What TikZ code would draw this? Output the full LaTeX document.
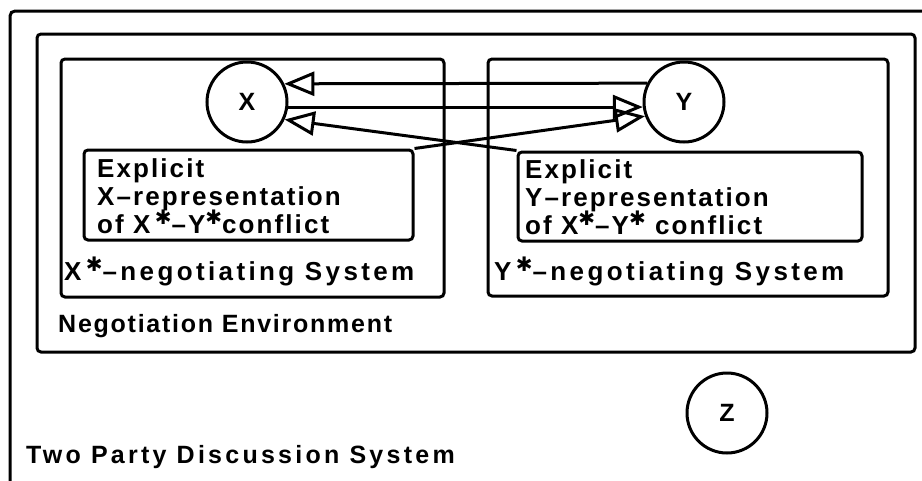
\documentclass[tikz,border=0pt]{standalone}
\usepackage{fontspec}
\setmainfont{Liberation Sans}
\newfontfamily\spA{Liberation Sans}[LetterSpace=7]
\newfontfamily\spB{Liberation Sans}[LetterSpace=8]
\newfontfamily\spC{Liberation Sans}[LetterSpace=13]
\newfontfamily\symfont{DejaVu Sans}
\usetikzlibrary{arrows.meta}

% raised heavy asterisk used after X and Y
\newcommand\starmark{\raisebox{0.33em}{\symfont\fontsize{20}{20}\selectfont ✱}}

\tikzset{
  box/.style={draw, line width=3pt, rounded corners=4pt, inner sep=0pt},
  party/.style={draw, circle, line width=3pt, minimum size=80pt, inner sep=0pt,
                font=\bfseries\fontsize{25}{25}\selectfont},
  lbl/.style={inner sep=0pt, anchor=base west, font=\spB\bfseries\fontsize{26}{28}\selectfont},
  wide/.style={lbl, font=\spC\bfseries\fontsize{26}{28}\selectfont},
  conn/.style={line width=3pt, -{Triangle[open, length=30pt, width=24pt, line width=3pt]}},
}

\begin{document}
\begin{tikzpicture}[x=1pt, y=-1pt]
  \useasboundingbox (0,0) rectangle (922,480);

  % open outer frame of the discussion system
  \draw[line width=3pt, rounded corners=5pt] (10,484) -- (10,11) -- (926,11);

  % nested system boxes
  \node[box, minimum width=878pt, minimum height=318pt] (env) at (476,193) {};
  \node[box, minimum width=383pt, minimum height=238pt] (xsys) at (252.5,178) {};
  \node[box, minimum width=400pt, minimum height=237pt] (ysys) at (688,177.5) {};
  \node[box, minimum width=329pt, minimum height=90pt] (xrep) at (248.5,195) {};
  \node[box, minimum width=344pt, minimum height=89pt] (yrep) at (690,196.5) {};

  % parties
  \node[party] (X) at (247,102) {X};
  \node[party] (Y) at (684,102) {Y};
  \node[party] (Z) at (727,413) {Z};

  % representation texts
  \node[lbl] (xr1) at (97,177) {Explicit};
  \node[lbl] (xr2) at (97,205) {X–representation};
  \node[lbl] (xr3) at (97,233) {of X\,\starmark–Y\starmark conflict};
  \node[lbl] (yr1) at (525,178) {Explicit};
  \node[lbl] (yr2) at (525,206) {Y–representation};
  \node[lbl] (yr3) at (525,234) {of X\starmark–Y\starmark\ conflict};

  % system labels
  \node[wide] (xsl) at (64,280) {X\,\starmark–negotiating System};
  \node[wide] (ysl) at (494,280) {Y\,\starmark–negotiating System};
  \node[lbl, font=\spA\bfseries\fontsize{25}{28}\selectfont] (envl) at (58,332) {Negotiation Environment};
  \node[lbl, font=\spC\bfseries\fontsize{25}{28}\selectfont] (tpds) at (26,463) {Two Party Discussion System};

  % exchanges between the parties
  \draw[conn] (Y.153.3) -- (X.26.7);
  \draw[conn] (X.-7.2) -- (Y.187.2);
  \draw[conn] (xrep.north east) -- (Y.200);
  \draw[conn] (yrep.north west) -- (X.-25);
\end{tikzpicture}
\end{document}
